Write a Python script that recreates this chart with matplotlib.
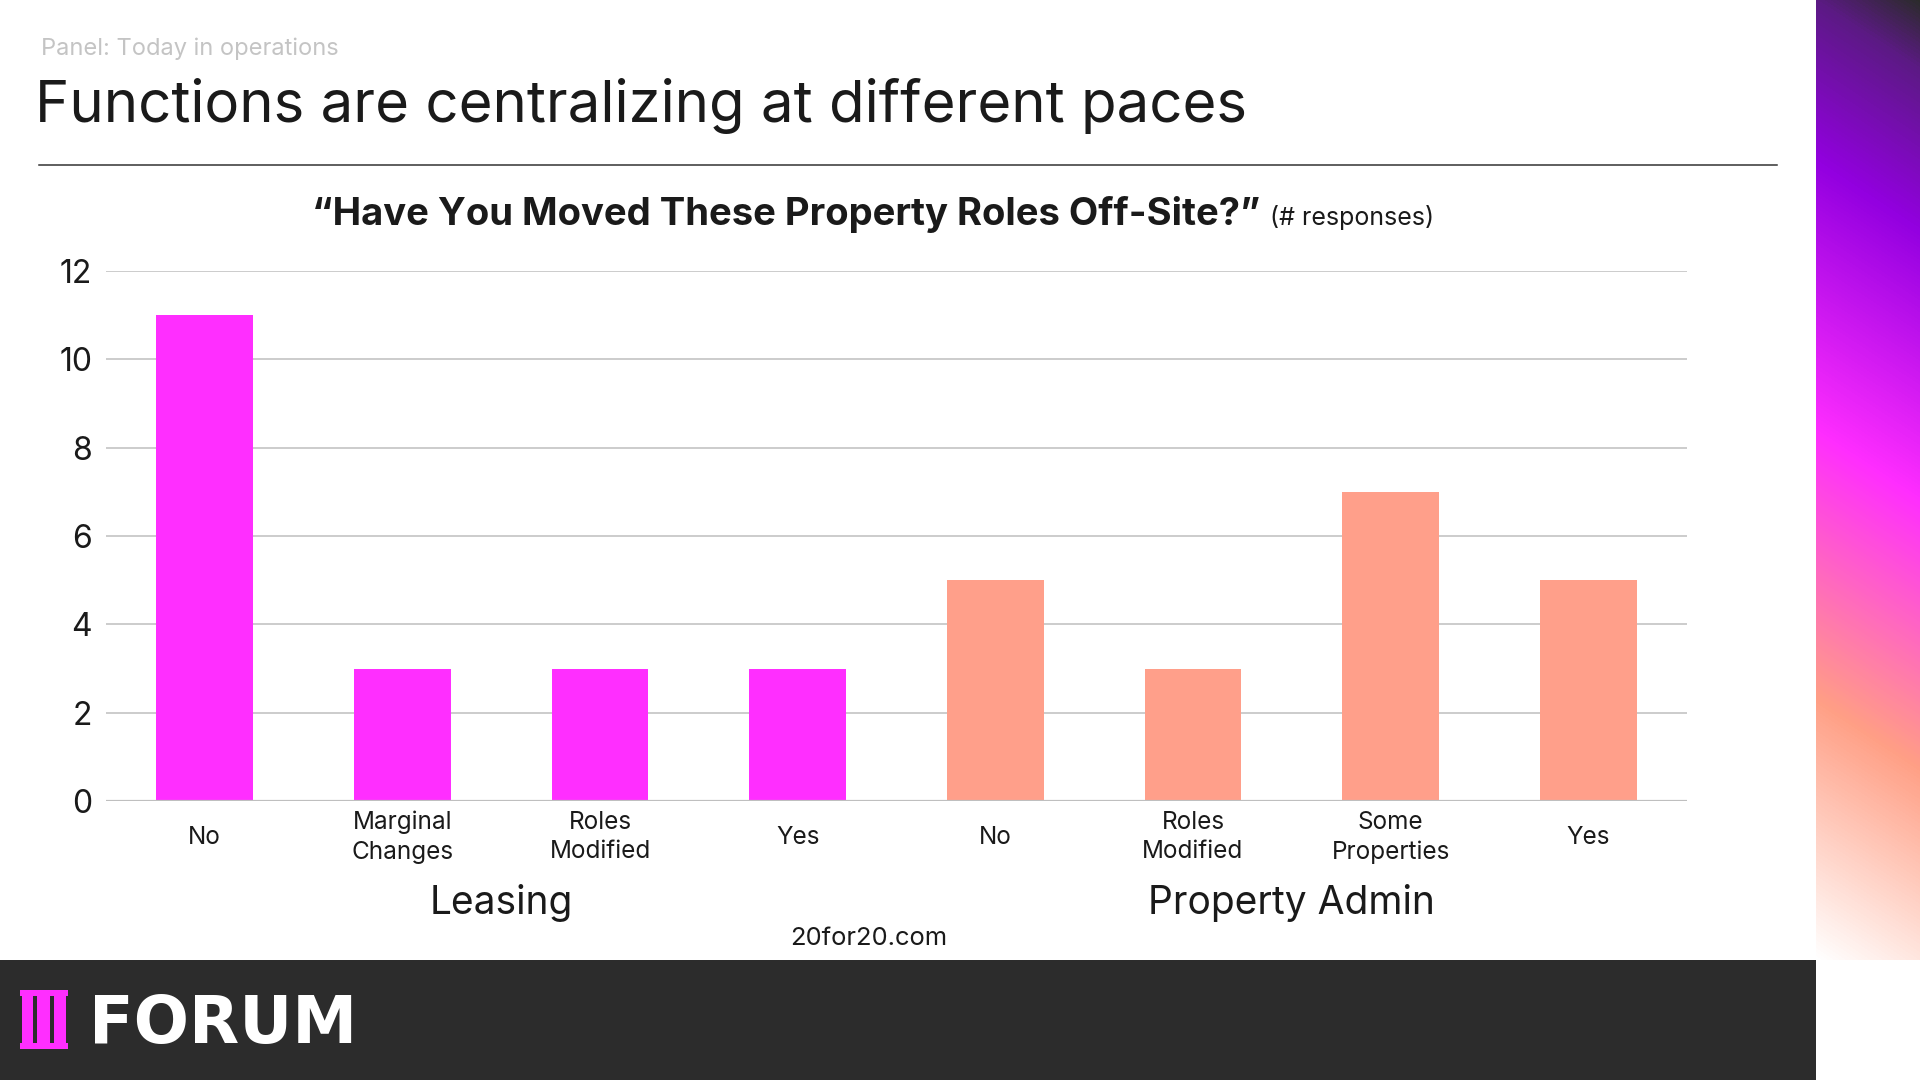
import numpy as np
import matplotlib
matplotlib.use("Agg")
import matplotlib.pyplot as plt
from matplotlib.patches import Rectangle
from matplotlib.colors import LinearSegmentedColormap
import matplotlib.transforms as mtransforms

plt.rcParams['font.family'] = ['Inter', 'DejaVu Sans']

# ---------------- data ----------------
categories = ["No", "Marginal\nChanges", "Roles\nModified", "Yes",
              "No", "Roles\nModified", "Some\nProperties", "Yes"]
values = [11, 3, 3, 3, 5, 3, 7, 5]
groups = ["Leasing", "Leasing", "Leasing", "Leasing",
          "Property Admin", "Property Admin", "Property Admin", "Property Admin"]
group_names = ["Leasing", "Property Admin"]
group_colors = {"Leasing": "#ff2eff", "Property Admin": "#ff9f8a"}
y_ticks = [0, 2, 4, 6, 8, 10, 12]

W, H = 1920, 1080
fig = plt.figure(figsize=(W / 100, H / 100), dpi=100)
fig.patch.set_facecolor("white")

def fx(px):
    return px / W

def fy(py):
    return 1 - py / H

TEXT = "#1a1a1a"

# ---------------- header ----------------
fig.text(fx(41), fy(49), "Panel: Today in operations", fontsize=17,
         color="#c4c4c4", ha="left", va="center")
fig.text(fx(35), fy(122), "Functions are centralizing at different paces",
         fontsize=41.8, color=TEXT, ha="left", va="baseline")
fig.add_artist(plt.Line2D([fx(39), fx(1777)], [fy(165), fy(165)],
                          color="#333333", lw=1.1))

# ---------------- chart ----------------
ax_left, ax_right, ax_top, ax_bottom = 106, 1687, 271, 801
ax = fig.add_axes([fx(ax_left), fy(ax_bottom), fx(ax_right - ax_left),
                   (ax_bottom - ax_top) / H])
x = np.arange(len(categories))
colors = [group_colors[g] for g in groups]
ax.bar(x, values, width=0.49, color=colors, zorder=3)
ax.set_xlim(-0.5, len(categories) - 0.5)
ax.set_ylim(0, 12)
ax.set_yticks(y_ticks)
ax.set_yticklabels([str(v) for v in y_ticks], fontsize=23, color=TEXT)
ax.yaxis.grid(True, color="#cccccc", lw=1.4, zorder=0)
ax.axhline(0, color="#bfbfbf", lw=2.3, zorder=4)
for s in ax.spines.values():
    s.set_visible(False)
ax.tick_params(axis="y", length=0, pad=10)
ax.set_xticks(x)
ax.set_xticklabels(categories, fontsize=17.5, color=TEXT, linespacing=1.35)
ax.tick_params(axis="x", length=0, pad=26)
for lab in ax.get_xticklabels():
    lab.set_va("center")
ax.set_facecolor("none")

# group labels
trans = mtransforms.blended_transform_factory(ax.transData, fig.transFigure)
for gname in group_names:
    idx = [i for i, g in enumerate(groups) if g == gname]
    ax.text(np.mean(idx), fy(914), gname, transform=trans, fontsize=28,
            color=TEXT, ha="center", va="baseline")

# chart title
fig.text(fx(1260), fy(225), "\u201cHave You Moved These Property Roles Off-Site?\u201d",
         fontsize=27.5, fontweight="bold", color=TEXT, ha="right", va="baseline")
fig.text(fx(1270), fy(225), "(# responses)", fontsize=18, color=TEXT,
         ha="left", va="baseline")

fig.text(fx(869), fy(945), "20for20.com", fontsize=18.4, color=TEXT,
         ha="center", va="baseline")

# ---------------- footer ----------------
fig.add_artist(Rectangle((0, 0), fx(1816), 120 / H, transform=fig.transFigure,
                         facecolor="#2c2c2c", edgecolor="none", zorder=0))
mag = "#ff2eff"
def prect(x0, y0, x1, y1):
    fig.add_artist(Rectangle((fx(x0), fy(y1)), fx(x1 - x0), (y1 - y0) / H,
                             transform=fig.transFigure, facecolor=mag,
                             edgecolor="none", zorder=2))
prect(20, 990, 68, 996)
prect(20, 1043, 68, 1049)
for c0, c1 in [(22, 33), (37, 50), (54, 66)]:
    prect(c0, 994, c1, 1045)
fig.text(fx(89), fy(1043), "FORUM", fontsize=47, fontweight="bold",
         color="white", ha="left", va="baseline", family="DejaVu Sans")

# ---------------- right gradient ----------------
gx0, gx1, gy0, gy1 = 1816, 1920, 0, 960
gax = fig.add_axes([fx(gx0), fy(gy1), fx(gx1 - gx0), (gy1 - gy0) / H])
gax.axis("off")
xs = np.arange(gx0, gx1)
ys = np.arange(gy0, gy1)
XX, YY = np.meshgrid(xs, ys)
T = YY - 0.66 * (XX - gx0)
stops = [(-70, "#2b2b2b"), (0, "#5c1a85"), (160, "#9300e0"), (430, "#ff2dff"),
         (700, "#ff9f85"), (960, "#ffffff")]
tmin, tmax = stops[0][0], stops[-1][0]
cmap = LinearSegmentedColormap.from_list(
    "g", [((t - tmin) / (tmax - tmin), c) for t, c in stops])
gax.imshow(cmap((T - tmin) / (tmax - tmin)), aspect="auto",
           extent=[0, 1, 0, 1], interpolation="bilinear")

fig.savefig("out.png", dpi=100, facecolor="white")
